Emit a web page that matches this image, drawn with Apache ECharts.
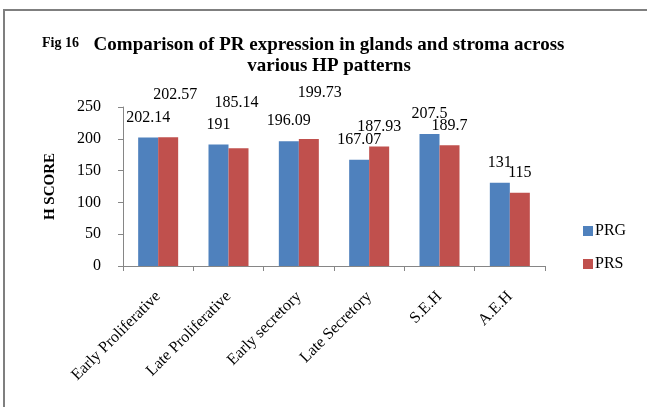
<!DOCTYPE html>
<html>
<head>
<meta charset="utf-8">
<script src="https://cdn.jsdelivr.net/npm/echarts@6/dist/echarts.min.js"></script>
<style>
  html, body { margin: 0; padding: 0; background: #fff; }
  #main-chart { width: 647px; height: 407px; }
</style>
</head>
<body>
<div id="main-chart"></div>
<script>
const categories = ['Early Proliferative', 'Late Proliferative', 'Early secretory', 'Late Secretory', 'S.E.H', 'A.E.H'];
const prgValues = [202.14, 191, 196.09, 167.07, 207.5, 131];
const prsValues = [202.57, 185.14, 199.73, 187.93, 189.7, 115];
const yTicks = [0, 50, 100, 150, 200, 250];

// the labels in the original were dragged by hand in a few places
const prsLabelNudge = [[7, -22], [-2, -25], [11, -26], [0, 0], [0, 0], [0, 0]];

const serif = "'Liberation Serif', 'Times New Roman', serif";

let chartDom = document.getElementById('main-chart');
let myChart = echarts.init(chartDom);

const labelStyle = {
    show: true,
    position: 'top',
    distance: 12,
    color: '#000',
    fontFamily: serif,
    fontSize: 16
};

let option = {
    backgroundColor: '#fff',
    animation: false,
    graphic: [
        {
            type: 'rect',
            shape: { x: 4, y: 10, width: 800, height: 600 },
            style: { fill: 'none', stroke: '#7f7f7f', lineWidth: 2 },
            silent: true
        }
    ],
    title: [
        {
            text: 'Fig 16',
            left: 42,
            top: 36,
            padding: 0,
            textStyle: { fontFamily: serif, fontWeight: 'bold', fontSize: 14, color: '#000' }
        },
        {
            text: 'Comparison of PR expression in glands and stroma across\nvarious HP patterns',
            left: 329,
            top: 35,
            padding: 0,
            textAlign: 'center',
            textStyle: { fontFamily: serif, fontWeight: 'bold', fontSize: 19, lineHeight: 21, color: '#000' }
        }
    ],
    legend: {
        orient: 'vertical',
        left: 583,
        top: 223,
        padding: 0,
        itemWidth: 10,
        itemHeight: 10,
        itemGap: 17,
        icon: 'rect',
        textStyle: { fontFamily: serif, fontSize: 16, color: '#000', padding: [0, 0, 0, -3] },
        data: ['PRG', 'PRS']
    },
    grid: { left: 123, right: 102, top: 107, bottom: 141 },
    xAxis: {
        type: 'category',
        data: categories,
        axisLine: { lineStyle: { color: '#868686' } },
        axisTick: { show: true, length: 5, lineStyle: { color: '#868686' } },
        axisLabel: {
            rotate: 45,
            margin: 28,
            interval: 0,
            color: '#000',
            fontFamily: serif,
            fontSize: 16
        }
    },
    yAxis: {
        type: 'value',
        min: yTicks[0],
        max: yTicks[yTicks.length - 1],
        interval: yTicks[1] - yTicks[0],
        name: 'H SCORE',
        nameLocation: 'middle',
        nameRotate: 90,
        nameGap: 65,
        nameTextStyle: { fontFamily: serif, fontWeight: 'bold', fontSize: 15, color: '#000' },
        axisLine: { show: true, lineStyle: { color: '#868686' } },
        axisTick: { show: true, length: 5, lineStyle: { color: '#868686' } },
        splitLine: { show: false },
        axisLabel: { margin: 22, color: '#000', fontFamily: serif, fontSize: 16 }
    },
    series: [
        {
            name: 'PRG',
            type: 'bar',
            barWidth: 20,
            barGap: '0%',
            itemStyle: { color: '#4f81bd' },
            label: labelStyle,
            data: prgValues
        },
        {
            name: 'PRS',
            type: 'bar',
            barWidth: 20,
            barGap: '0%',
            itemStyle: { color: '#c0504d' },
            label: labelStyle,
            data: prsValues.map((v, i) => ({ value: v, label: { offset: prsLabelNudge[i] } }))
        }
    ]
};

myChart.setOption(option);
</script>
</body>
</html>
